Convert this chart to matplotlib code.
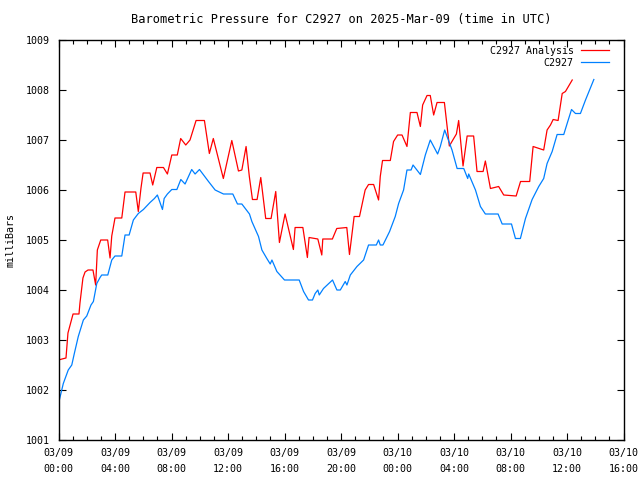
import matplotlib
matplotlib.use('Agg')
import matplotlib.pyplot as plt
from matplotlib.ticker import MultipleLocator

# hours since 2025-03-09 00:00 UTC, pressure in milliBars
analysis_hours = [0.0, 0.25, 0.53, 0.67, 1.03, 1.45, 1.52, 1.73, 1.88, 2.09, 2.44, 2.63, 2.75, 2.99,
                  3.48, 3.65, 3.77, 4.00, 4.48, 4.71, 5.47, 5.65, 5.84, 5.99, 6.48, 6.67, 6.96, 7.43,
                  7.71, 8.02, 8.41, 8.65, 9.01, 9.31, 9.74, 10.33, 10.68, 10.96, 11.67, 12.27, 12.74,
                  12.98, 13.28, 13.51, 13.73, 14.06, 14.32, 14.67, 15.05, 15.38, 15.64, 16.04, 16.63,
                  16.75, 17.30, 17.62, 17.74, 18.36, 18.64, 18.71, 19.39, 19.70, 20.41, 20.60, 20.93,
                  21.31, 21.71, 21.95, 22.31, 22.66, 22.78, 22.94, 23.49, 23.72, 24.01, 24.32, 24.67,
                  24.91, 25.38, 25.62, 25.78, 26.09, 26.32, 26.56, 26.80, 27.32, 27.67, 27.98, 28.17,
                  28.33, 28.64, 28.93, 29.39, 29.63, 30.06, 30.22, 30.58, 31.16, 31.52, 32.40, 32.71,
                  33.36, 33.60, 34.24, 34.35, 34.59, 34.83, 35.02, 35.37, 35.66, 35.89, 36.37]
analysis_mb = [1002.60, 1002.62, 1002.64, 1003.14, 1003.52, 1003.52, 1003.74, 1004.24, 1004.36,
               1004.40, 1004.40, 1004.10, 1004.80, 1005.00, 1005.00, 1004.64, 1005.08, 1005.44,
               1005.44, 1005.96, 1005.96, 1005.57, 1006.04, 1006.34, 1006.34, 1006.10, 1006.45,
               1006.45, 1006.32, 1006.70, 1006.70, 1007.03, 1006.90, 1007.00, 1007.39, 1007.39,
               1006.73, 1007.03, 1006.23, 1006.99, 1006.38, 1006.40, 1006.87, 1006.27, 1005.81,
               1005.81, 1006.25, 1005.43, 1005.43, 1005.97, 1004.95, 1005.52, 1004.81, 1005.25,
               1005.25, 1004.65, 1005.05, 1005.02, 1004.70, 1005.02, 1005.02, 1005.23, 1005.25,
               1004.71, 1005.47, 1005.47, 1006.00, 1006.11, 1006.11, 1005.80, 1006.27, 1006.59,
               1006.59, 1006.97, 1007.10, 1007.10, 1006.87, 1007.55, 1007.55, 1007.27, 1007.70,
               1007.89, 1007.89, 1007.50, 1007.75, 1007.75, 1006.88, 1007.03, 1007.12, 1007.39,
               1006.48, 1007.08, 1007.08, 1006.37, 1006.37, 1006.58, 1006.03, 1006.07, 1005.90,
               1005.88, 1006.17, 1006.17, 1006.87, 1006.81, 1006.80, 1007.20, 1007.30, 1007.41,
               1007.39, 1007.93, 1007.97, 1008.20]

station_hours = [0.0, 0.34, 0.69, 0.94, 1.12, 1.40, 1.76, 2.00, 2.30, 2.47, 2.71, 2.94, 3.06, 3.49,
                 3.77, 4.00, 4.48, 4.71, 5.00, 5.30, 5.65, 6.01, 6.48, 6.79, 7.00, 7.36, 7.48, 7.71,
                 8.02, 8.38, 8.66, 8.96, 9.43, 9.67, 9.98, 10.62, 11.09, 11.68, 12.34, 12.67, 12.98,
                 13.52, 13.69, 14.16, 14.40, 14.75, 14.99, 15.11, 15.46, 16.00, 17.04, 17.35, 17.70,
                 17.98, 18.17, 18.36, 18.46, 18.76, 19.40, 19.71, 19.95, 20.30, 20.42, 20.66, 21.13,
                 21.60, 21.95, 22.50, 22.66, 22.78, 22.97, 23.44, 23.84, 24.08, 24.43, 24.67, 24.96,
                 25.10, 25.62, 25.97, 26.32, 26.84, 27.03, 27.34, 27.86, 28.22, 28.69, 28.97, 29.04,
                 29.52, 29.87, 30.22, 31.12, 31.41, 32.07, 32.35, 32.70, 33.06, 33.53, 34.00, 34.35,
                 34.59, 34.95, 35.30, 35.77, 36.01, 36.32, 36.60, 36.95, 37.31, 37.90]
station_mb = [1001.73, 1002.13, 1002.40, 1002.50, 1002.73, 1003.07, 1003.40, 1003.48, 1003.70,
              1003.77, 1004.13, 1004.25, 1004.30, 1004.30, 1004.60, 1004.68, 1004.68, 1005.10,
              1005.10, 1005.40, 1005.53, 1005.61, 1005.75, 1005.83, 1005.90, 1005.61, 1005.83,
              1005.92, 1006.01, 1006.01, 1006.21, 1006.12, 1006.41, 1006.32, 1006.41, 1006.17,
              1006.00, 1005.92, 1005.92, 1005.72, 1005.72, 1005.52, 1005.37, 1005.07, 1004.80,
              1004.63, 1004.52, 1004.60, 1004.37, 1004.20, 1004.20, 1003.97, 1003.80, 1003.80,
              1003.93, 1004.00, 1003.90, 1004.03, 1004.20, 1004.00, 1004.00, 1004.17, 1004.10,
              1004.30, 1004.47, 1004.60, 1004.90, 1004.90, 1005.00, 1004.90, 1004.90, 1005.17,
              1005.47, 1005.73, 1006.00, 1006.40, 1006.40, 1006.50, 1006.31, 1006.70, 1007.00,
              1006.72, 1006.87, 1007.20, 1006.80, 1006.43, 1006.43, 1006.23, 1006.32, 1006.00,
              1005.67, 1005.52, 1005.52, 1005.32, 1005.32, 1005.03, 1005.03, 1005.43, 1005.81,
              1006.07, 1006.23, 1006.53, 1006.77, 1007.11, 1007.11, 1007.33, 1007.61, 1007.53,
              1007.53, 1007.80, 1008.21]

tick_hours = [0, 4, 8, 12, 16, 20, 24, 28, 32, 36, 40]
tick_labels = ['03/09\n00:00', '03/09\n04:00', '03/09\n08:00', '03/09\n12:00', '03/09\n16:00',
               '03/09\n20:00', '03/10\n00:00', '03/10\n04:00', '03/10\n08:00', '03/10\n12:00',
               '03/10\n16:00']

plt.rcParams['font.family'] = 'DejaVu Sans Mono'
plt.rcParams['font.size'] = 7.2

fig = plt.figure(figsize=(6.4, 4.8), dpi=100)
ax = fig.add_axes([58.5 / 640, 40 / 480, 565 / 640, 400 / 480])

ax.plot(analysis_hours, analysis_mb, color='#ff0000', lw=0.9, label='C2927 Analysis')
ax.plot(station_hours, station_mb, color='#0080ff', lw=0.9, label='C2927')

ax.set_xlim(0, 40)
ax.set_ylim(1001, 1009)
ax.set_xticks(tick_hours)
ax.set_xticklabels(tick_labels, linespacing=1.7)
ax.xaxis.set_minor_locator(MultipleLocator(1))
ax.yaxis.set_major_locator(MultipleLocator(1))
ax.tick_params(which='both', direction='in', top=True, right=True, width=0.8)
ax.tick_params(which='major', length=5, pad=6)
ax.tick_params(which='minor', length=3)
for s in ax.spines.values():
    s.set_linewidth(1.0)

ax.set_ylabel('milliBars', labelpad=8)
ax.set_title('Barometric Pressure for C2927 on 2025-Mar-09 (time in UTC)', pad=12)
ax.legend(loc='upper right', bbox_to_anchor=(0.986, 1.003), frameon=False, markerfirst=False,
          handlelength=2.8, labelspacing=0.2, borderaxespad=0.3, handletextpad=0.7)

fig.savefig('out.png', dpi=100)
